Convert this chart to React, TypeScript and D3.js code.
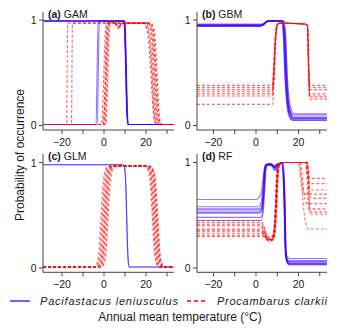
import React from 'react';
import * as d3 from 'd3';

type Curve = [number, number][];

const xTicks = [-20, -10, 0, 10, 20, 30];
const xTickLabels = [-20, 0, 20];
const yTicks = [0, 1];

// (a) GAM
const gamPacifastacus: Curve[] = [
  [[-29, 0.99], [9.6, 0.99], [10.2, 0.7], [10.8, 0.2], [11.4, 0.01], [33.3, 0.01]],
  [[-29, 0.99], [9.9, 0.99], [10.5, 0.6], [11.1, 0.15], [11.7, 0.01], [33.3, 0.01]],
  [[-29, 0.99], [9.4, 0.99], [10.0, 0.75], [10.6, 0.25], [11.2, 0.01], [33.3, 0.01]],
  [[-29, 0.99], [10.1, 0.99], [10.7, 0.5], [11.3, 0.05], [11.8, 0.01], [33.3, 0.01]],
  [[-29, 0.01], [-3.8, 0.01], [-3.3, 0.5], [-2.8, 0.99], [9.7, 0.99], [10.3, 0.65], [10.9, 0.15], [11.5, 0.01], [33.3, 0.01]],
  [[-29, 0.01], [-3.2, 0.01], [-2.7, 0.5], [-2.2, 0.99], [9.8, 0.99], [10.4, 0.6], [11.0, 0.1], [11.6, 0.01], [33.3, 0.01]],
  [[-29, 0.99], [9.8, 0.99], [10.4, 0.6], [11.0, 0.12], [11.6, 0.01], [33.3, 0.01]],
];
const gamProcambarus: Curve[] = [
  [[-29, 0.01], [-17.8, 0.01], [-17.3, 0.97], [19.0, 0.97], [20.5, 0.9], [22.0, 0.6], [23.0, 0.25], [24.0, 0.05], [25.0, 0.01], [33.3, 0.01]],
  [[-29, 0.01], [-15.5, 0.01], [-15.0, 0.97], [19.5, 0.97], [21.0, 0.9], [22.5, 0.6], [23.5, 0.2], [24.5, 0.03], [25.5, 0.01], [33.3, 0.01]],
  [[-29, 0.01], [-0.5, 0.01], [0.3, 0.3], [1.0, 0.8], [1.8, 0.97], [3.0, 0.99], [5.0, 0.98], [6.7, 0.92], [8.0, 0.96], [9.5, 0.97], [21.0, 0.97], [22.5, 0.92], [23.8, 0.6], [24.8, 0.2], [25.8, 0.03], [26.8, 0.01], [33.3, 0.01]],
  [[-29, 0.01], [0.0, 0.01], [0.8, 0.3], [1.5, 0.8], [2.3, 0.97], [3.5, 0.99], [5.2, 0.97], [6.8, 0.93], [8.2, 0.96], [9.7, 0.97], [21.5, 0.97], [23.0, 0.92], [24.2, 0.6], [25.2, 0.2], [26.2, 0.03], [27.2, 0.01], [33.3, 0.01]],
  [[-29, 0.01], [0.5, 0.01], [1.2, 0.3], [1.9, 0.8], [2.7, 0.97], [4.0, 0.98], [5.5, 0.97], [7.0, 0.93], [8.4, 0.96], [10.0, 0.97], [22.0, 0.97], [23.4, 0.92], [24.6, 0.6], [25.6, 0.2], [26.5, 0.03], [27.5, 0.01], [33.3, 0.01]],
  [[-29, 0.01], [-0.3, 0.01], [0.5, 0.3], [1.2, 0.8], [2.0, 0.97], [3.2, 0.99], [5.0, 0.98], [6.6, 0.94], [8.0, 0.96], [9.6, 0.97], [20.8, 0.97], [22.2, 0.92], [23.4, 0.6], [24.4, 0.2], [25.4, 0.03], [26.4, 0.01], [33.3, 0.01]],
  [[-29, 0.01], [1.0, 0.01], [1.6, 0.3], [2.3, 0.8], [3.1, 0.97], [4.2, 0.98], [5.8, 0.97], [7.2, 0.93], [8.6, 0.96], [10.2, 0.97], [22.4, 0.97], [23.8, 0.92], [25.0, 0.6], [26.0, 0.2], [26.9, 0.03], [27.8, 0.01], [33.3, 0.01]],
  [[-29, 0.01], [-1.2, 0.01], [-0.4, 0.3], [0.4, 0.8], [1.2, 0.97], [3.0, 0.97], [20.0, 0.97], [21.5, 0.9], [22.8, 0.6], [23.8, 0.2], [24.8, 0.03], [25.8, 0.01], [33.3, 0.01]],
];

// (b) GBM
const gbmPacifastacus: Curve[] = [
  [[-27.8, 0.95], [2, 0.95], [3.5, 0.96], [4.5, 0.975], [5.5, 0.99], [12.0, 0.99], [12.8, 0.85], [13.6, 0.45], [14.5, 0.2], [15.5, 0.09], [17, 0.05], [33.4, 0.05]],
  [[-27.8, 0.94], [2, 0.94], [3.5, 0.95], [4.5, 0.975], [5.5, 0.99], [12.4, 0.99], [13.2, 0.85], [14.0, 0.45], [14.9, 0.2], [15.9, 0.09], [17.4, 0.05], [33.4, 0.05]],
  [[-27.8, 0.96], [2, 0.96], [3.5, 0.965], [4.5, 0.98], [5.5, 0.99], [12.6, 0.99], [13.4, 0.85], [14.2, 0.45], [15.1, 0.2], [16.1, 0.1], [17.6, 0.06], [33.4, 0.06]],
  [[-27.8, 0.95], [2, 0.95], [3.5, 0.96], [4.5, 0.975], [5.5, 0.99], [12.2, 0.99], [13.0, 0.85], [13.8, 0.45], [14.7, 0.2], [15.7, 0.11], [17.2, 0.07], [33.4, 0.07]],
  [[-27.8, 0.94], [2, 0.94], [3.5, 0.95], [4.5, 0.975], [5.5, 0.99], [12.8, 0.99], [13.6, 0.85], [14.4, 0.45], [15.3, 0.2], [16.3, 0.11], [17.8, 0.07], [33.4, 0.07]],
  [[-27.8, 0.95], [2, 0.95], [3.5, 0.96], [4.5, 0.975], [5.5, 0.99], [13.0, 0.99], [13.8, 0.85], [14.6, 0.45], [15.5, 0.2], [16.5, 0.12], [18.0, 0.08], [33.4, 0.08]],
  [[-27.8, 0.96], [2, 0.96], [3.5, 0.965], [4.5, 0.98], [5.5, 0.99], [12.5, 0.99], [13.3, 0.85], [14.1, 0.45], [15.0, 0.22], [16.0, 0.14], [17.5, 0.10], [33.4, 0.10]],
  [[-27.8, 0.95], [2, 0.95], [3.5, 0.96], [4.5, 0.975], [5.5, 0.99], [13.2, 0.99], [14.0, 0.85], [14.8, 0.45], [15.7, 0.23], [16.7, 0.15], [18.2, 0.11], [33.4, 0.11]],
];
const gbmProcambarus: Curve[] = [
  [[-27.8, 0.38], [7.6, 0.38], [8.1, 0.48], [9.0, 0.8], [9.8, 0.95], [11, 0.97], [23.5, 0.96], [24.2, 0.94], [24.7, 0.6], [25.2, 0.38], [33.4, 0.38]],
  [[-27.8, 0.36], [7.8, 0.36], [8.3, 0.46], [9.2, 0.8], [10.0, 0.95], [11, 0.97], [23.6, 0.96], [24.3, 0.94], [24.8, 0.6], [25.3, 0.36], [33.4, 0.36]],
  [[-27.8, 0.34], [7.5, 0.34], [8.0, 0.44], [8.9, 0.8], [9.7, 0.95], [11, 0.97], [23.4, 0.96], [24.1, 0.94], [24.6, 0.6], [25.1, 0.34], [33.4, 0.34]],
  [[-27.8, 0.32], [7.7, 0.32], [8.2, 0.42], [9.1, 0.8], [9.9, 0.95], [11, 0.97], [23.5, 0.96], [24.2, 0.94], [24.7, 0.55], [25.2, 0.30], [33.4, 0.30]],
  [[-27.8, 0.30], [7.9, 0.30], [8.4, 0.4], [9.3, 0.8], [10.1, 0.95], [11, 0.97], [23.7, 0.96], [24.4, 0.94], [24.9, 0.55], [25.4, 0.28], [33.4, 0.28]],
  [[-27.8, 0.28], [7.6, 0.28], [8.1, 0.38], [9.0, 0.8], [9.8, 0.95], [11, 0.97], [23.5, 0.96], [24.2, 0.94], [24.7, 0.55], [25.2, 0.27], [33.4, 0.27]],
  [[-27.8, 0.20], [7.8, 0.20], [8.3, 0.32], [9.2, 0.8], [10.0, 0.95], [11, 0.97], [23.6, 0.96], [24.3, 0.94], [24.8, 0.5], [25.3, 0.25], [33.4, 0.25]],
];

// (c) GLM
const glmPacifastacus: Curve[] = [
  [[-29, 0.98], [8.5, 0.98], [9.5, 0.97], [10.0, 0.92], [10.5, 0.7], [11.0, 0.3], [11.5, 0.07], [12.0, 0.01], [33.3, 0.01]],
  [[-29, 0.98], [8.6, 0.98], [9.6, 0.97], [10.1, 0.91], [10.6, 0.68], [11.1, 0.28], [11.6, 0.06], [12.1, 0.01], [33.3, 0.01]],
];
const glmProcambarus: Curve[] = [
  [[-29, 0.01], [-4.4, 0.01], [-3.4, 0.04], [-2.4, 0.16], [-1.4, 0.49], [-0.4, 0.81], [0.6, 0.93], [1.6, 0.96], [3.6, 0.97], [18.0, 0.97], [20.0, 0.96], [21.0, 0.93], [22.0, 0.81], [23.0, 0.49], [24.0, 0.16], [25.0, 0.04], [26.0, 0.01], [33.3, 0.01]],
  [[-29, 0.01], [-3.8, 0.01], [-2.8, 0.04], [-1.8, 0.16], [-0.8, 0.49], [0.2, 0.81], [1.2, 0.93], [2.2, 0.96], [4.2, 0.97], [18.4, 0.97], [20.4, 0.96], [21.4, 0.93], [22.4, 0.81], [23.4, 0.49], [24.4, 0.16], [25.4, 0.04], [26.4, 0.01], [33.3, 0.01]],
  [[-29, 0.01], [-3.3, 0.01], [-2.3, 0.04], [-1.3, 0.16], [-0.3, 0.49], [0.7, 0.81], [1.7, 0.93], [2.7, 0.96], [4.7, 0.97], [18.8, 0.97], [20.8, 0.96], [21.8, 0.93], [22.8, 0.81], [23.8, 0.49], [24.8, 0.16], [25.8, 0.04], [26.8, 0.01], [33.3, 0.01]],
  [[-29, 0.01], [-2.8, 0.01], [-1.8, 0.04], [-0.8, 0.16], [0.2, 0.49], [1.2, 0.81], [2.2, 0.93], [3.2, 0.96], [5.2, 0.97], [19.2, 0.97], [21.2, 0.96], [22.2, 0.93], [23.2, 0.81], [24.2, 0.49], [25.2, 0.16], [26.2, 0.04], [27.2, 0.01], [33.3, 0.01]],
  [[-29, 0.01], [-2.4, 0.01], [-1.4, 0.04], [-0.4, 0.16], [0.6, 0.49], [1.6, 0.81], [2.6, 0.93], [3.6, 0.96], [5.6, 0.97], [19.6, 0.97], [21.6, 0.96], [22.6, 0.93], [23.6, 0.81], [24.6, 0.49], [25.6, 0.16], [26.6, 0.04], [27.6, 0.01], [33.3, 0.01]],
  [[-29, 0.01], [-2.0, 0.01], [-1.0, 0.04], [0.0, 0.16], [1.0, 0.49], [2.0, 0.81], [3.0, 0.93], [4.0, 0.96], [6.0, 0.97], [20.0, 0.97], [22.0, 0.96], [23.0, 0.93], [24.0, 0.81], [25.0, 0.49], [26.0, 0.16], [27.0, 0.04], [28.0, 0.01], [33.3, 0.01]],
  [[-29, 0.01], [-1.5, 0.01], [-0.5, 0.04], [0.5, 0.16], [1.5, 0.49], [2.5, 0.81], [3.5, 0.93], [4.5, 0.96], [6.5, 0.97], [20.3, 0.97], [22.3, 0.96], [23.3, 0.93], [24.3, 0.81], [25.3, 0.49], [26.3, 0.16], [27.3, 0.04], [28.3, 0.01], [33.3, 0.01]],
  [[-29, 0.01], [-1.0, 0.01], [0.0, 0.04], [1.0, 0.16], [2.0, 0.49], [3.0, 0.81], [4.0, 0.93], [5.0, 0.96], [7.0, 0.97], [20.6, 0.97], [22.6, 0.96], [23.6, 0.93], [24.6, 0.81], [25.6, 0.49], [26.6, 0.16], [27.6, 0.04], [28.6, 0.01], [33.3, 0.01]],
];

// (d) RF
const rfPacifastacus: Curve[] = [
  [[-27.8, 0.65], [0, 0.65], [1.5, 0.67], [2.5, 0.72], [3.3, 0.85], [4.2, 0.97], [6, 0.99], [8, 0.97], [10, 0.98], [12.2, 0.99], [13.0, 0.75], [13.8, 0.2], [14.6, 0.11], [16, 0.09], [33.4, 0.09]],
  [[-27.8, 0.58], [1, 0.58], [2, 0.6], [3, 0.7], [3.8, 0.9], [4.6, 0.98], [7, 0.98], [8.5, 0.93], [10, 0.98], [12.5, 0.99], [13.3, 0.7], [14.0, 0.15], [15, 0.08], [16, 0.07], [33.4, 0.07]],
  [[-27.8, 0.56], [1.5, 0.56], [2.5, 0.58], [3.3, 0.7], [4.0, 0.92], [4.8, 0.98], [7, 0.99], [9, 0.95], [10.5, 0.98], [12.4, 0.99], [13.2, 0.7], [13.9, 0.15], [14.8, 0.07], [16, 0.06], [33.4, 0.06]],
  [[-27.8, 0.55], [1.8, 0.55], [2.8, 0.57], [3.5, 0.7], [4.2, 0.92], [5.0, 0.98], [7.5, 0.98], [9.2, 0.92], [10.5, 0.98], [12.6, 0.99], [13.4, 0.7], [14.1, 0.12], [15, 0.06], [16, 0.05], [33.4, 0.05]],
  [[-27.8, 0.53], [2, 0.53], [3, 0.56], [3.7, 0.72], [4.4, 0.93], [5.2, 0.98], [7, 0.97], [8.8, 0.96], [10.2, 0.99], [12.3, 0.99], [13.1, 0.7], [13.8, 0.12], [14.7, 0.05], [16, 0.04], [33.4, 0.04]],
  [[-27.8, 0.52], [1.5, 0.52], [2.6, 0.55], [3.4, 0.7], [4.1, 0.93], [4.9, 0.98], [7.2, 0.98], [9.5, 0.94], [10.8, 0.98], [12.7, 0.99], [13.5, 0.7], [14.2, 0.12], [15, 0.045], [16, 0.035], [33.4, 0.035]],
  [[-27.8, 0.48], [2.2, 0.48], [3.0, 0.52], [3.8, 0.7], [4.5, 0.93], [5.3, 0.98], [7, 0.99], [8.6, 0.95], [10, 0.98], [12.5, 0.99], [13.3, 0.7], [14.0, 0.12], [14.9, 0.04], [16, 0.03], [33.4, 0.03]],
  [[-27.8, 0.45], [2.4, 0.45], [3.2, 0.5], [4.0, 0.7], [4.7, 0.93], [5.5, 0.98], [7.4, 0.98], [9, 0.96], [10.4, 0.99], [12.8, 0.99], [13.6, 0.7], [14.3, 0.12], [15.2, 0.05], [16, 0.04], [33.4, 0.04]],
];
const rfProcambarus: Curve[] = [
  [[-27.8, 0.45], [1.5, 0.45], [3, 0.43], [4, 0.38], [5, 0.32], [6.5, 0.29], [8, 0.31], [9, 0.5], [9.8, 0.85], [10.5, 0.98], [12, 1.0], [23.8, 1.0], [24.4, 0.93], [25.0, 0.88], [25.6, 0.85], [33.4, 0.85]],
  [[-27.8, 0.43], [1.8, 0.43], [3.2, 0.41], [4.2, 0.36], [5.2, 0.3], [6.8, 0.28], [8.2, 0.3], [9.2, 0.5], [10.0, 0.85], [10.7, 0.98], [12, 1.0], [23.4, 1.0], [24.0, 0.9], [24.6, 0.83], [25.2, 0.80], [33.4, 0.80]],
  [[-27.8, 0.40], [1.6, 0.40], [3.0, 0.38], [4.0, 0.34], [5.0, 0.3], [6.6, 0.27], [8.0, 0.29], [9.0, 0.5], [9.8, 0.85], [10.5, 0.98], [12, 1.0], [23.9, 1.0], [24.5, 0.88], [25.0, 0.77], [25.6, 0.74], [33.4, 0.74]],
  [[-27.8, 0.37], [2.0, 0.37], [3.4, 0.35], [4.4, 0.31], [5.4, 0.27], [7.0, 0.26], [8.4, 0.28], [9.4, 0.5], [10.2, 0.85], [10.9, 0.98], [12, 1.0], [19.8, 1.0], [20.8, 0.9], [21.8, 0.76], [22.8, 0.70], [33.4, 0.70]],
  [[-27.8, 0.35], [1.8, 0.35], [3.2, 0.33], [4.2, 0.3], [5.2, 0.27], [6.8, 0.25], [8.2, 0.28], [9.2, 0.5], [10.0, 0.85], [10.7, 0.98], [12, 1.0], [24.3, 1.0], [24.9, 0.85], [25.4, 0.7], [26.0, 0.66], [33.4, 0.66]],
  [[-27.8, 0.31], [2.2, 0.31], [3.6, 0.3], [4.6, 0.28], [5.6, 0.26], [7.2, 0.26], [8.6, 0.29], [9.6, 0.5], [10.4, 0.85], [11.1, 0.98], [12.5, 1.0], [20.8, 1.0], [21.8, 0.88], [22.8, 0.68], [23.8, 0.61], [33.4, 0.61]],
  [[-27.8, 0.30], [1.9, 0.30], [3.3, 0.3], [4.3, 0.29], [5.3, 0.27], [6.9, 0.26], [8.3, 0.29], [9.3, 0.5], [10.1, 0.85], [10.8, 0.98], [12, 1.0], [23.9, 1.0], [24.5, 0.85], [25.0, 0.62], [25.6, 0.56], [33.4, 0.56]],
  [[-27.8, 0.33], [2.1, 0.33], [3.5, 0.32], [4.5, 0.29], [5.5, 0.27], [7.1, 0.27], [8.5, 0.3], [9.5, 0.5], [10.3, 0.85], [11.0, 0.98], [12.4, 1.0], [23.4, 1.0], [24.0, 0.85], [24.6, 0.6], [25.2, 0.53], [33.4, 0.53]],
  [[-27.8, 0.36], [1.7, 0.36], [3.1, 0.34], [4.1, 0.31], [5.1, 0.28], [6.7, 0.27], [8.1, 0.29], [9.1, 0.5], [9.9, 0.85], [10.6, 0.98], [12, 1.0], [24.1, 1.0], [24.7, 0.85], [25.2, 0.58], [25.8, 0.51], [33.4, 0.51]],
  [[-27.8, 0.41], [1.4, 0.41], [2.8, 0.4], [3.8, 0.35], [4.8, 0.3], [6.4, 0.27], [7.8, 0.3], [8.8, 0.5], [9.6, 0.85], [10.3, 0.98], [12, 1.0], [20.3, 1.0], [21.3, 0.85], [22.5, 0.55], [23.8, 0.40], [24.8, 0.37], [33.4, 0.37]],
];

const BLUE = '#3a00ff';
const RED = '#ff0000';

interface PanelSpec {
  tag: string;
  name: string;
  blue: Curve[];
  red: Curve[];
  left: number;
  right: number;
  xRange: [number, number];
  y0: number;
  y1: number;
  axisY: number;
  top: number;
}

const panels: PanelSpec[] = [
  { tag: '(a)', name: 'GAM', blue: gamPacifastacus, red: gamProcambarus, left: 43, right: 174, xRange: [62, 146], y0: 125.5, y1: 20, axisY: 130, top: 12 },
  { tag: '(b)', name: 'GBM', blue: gbmPacifastacus, red: gbmProcambarus, left: 197, right: 327, xRange: [213.5, 298.5], y0: 125.5, y1: 20, axisY: 130, top: 12 },
  { tag: '(c)', name: 'GLM', blue: glmPacifastacus, red: glmProcambarus, left: 43, right: 174, xRange: [62, 146], y0: 268, y1: 162.7, axisY: 272.3, top: 154 },
  { tag: '(d)', name: 'RF', blue: rfPacifastacus, red: rfProcambarus, left: 197, right: 327, xRange: [213.5, 298.5], y0: 268, y1: 162.5, axisY: 272.3, top: 154 },
];

const FONT = '"Liberation Sans", Arial, Helvetica, sans-serif';
const AXIS = '#444';
const TXT = '#1a1a1a';

function Panel({ p }: { p: PanelSpec }) {
  const x = d3.scaleLinear().domain([-20, 20]).range(p.xRange);
  const y = d3.scaleLinear().domain([0, 1]).range([p.y0, p.y1]);
  const line = d3
    .line<[number, number]>()
    .x((d) => x(d[0]))
    .y((d) => y(d[1]))
    .curve(d3.curveMonotoneX);
  const ticks = xTicks.filter((t) => x(t) >= p.left - 0.5 && x(t) <= p.right + 0.5);
  return (
    <g>
      {p.blue.map((c, i) => (
        <path key={'b' + i} d={line(c) || ''} fill="none" stroke={BLUE} strokeWidth={1.1} strokeOpacity={0.55} />
      ))}
      {p.red.map((c, i) => (
        <path key={'r' + i} d={line(c) || ''} fill="none" stroke={RED} strokeWidth={1.1} strokeOpacity={0.6} strokeDasharray="3,2" />
      ))}
      <line x1={p.left} x2={p.left} y1={p.top} y2={p.axisY} stroke={AXIS} strokeWidth={1} />
      <line x1={p.left} x2={p.right} y1={p.axisY} y2={p.axisY} stroke={AXIS} strokeWidth={1} />
      {ticks.map((t) => (
        <line key={'xt' + t} x1={x(t)} x2={x(t)} y1={p.axisY} y2={p.axisY + 4} stroke={AXIS} />
      ))}
      {xTickLabels.map((t) => (
        <text key={'xl' + t} x={x(t)} y={p.axisY + 16} textAnchor="middle" fontSize={10.5} fill={TXT} fontFamily={FONT}>
          {t < 0 ? '\u2212' + Math.abs(t) : String(t)}
        </text>
      ))}
      {yTicks.map((t) => (
        <g key={'yt' + t}>
          <line x1={p.left - 4} x2={p.left} y1={y(t)} y2={y(t)} stroke={AXIS} />
          <text x={p.left - 6.5} y={y(t) + 3.8} textAnchor="end" fontSize={10.5} fill={TXT} fontFamily={FONT}>
            {t}
          </text>
        </g>
      ))}
      <text x={p.left + 5} y={p.top + 6} fontSize={10.5} fill={TXT} fontFamily={FONT}>
        <tspan fontWeight="bold">{p.tag}</tspan>
        <tspan> {p.name}</tspan>
      </text>
    </g>
  );
}

export default function App() {
  return (
    <svg
      width={348}
      height={333}
      viewBox="0 0 348 333"
      style={{ position: 'absolute', left: 0, top: 0, background: '#fff' }}
    >
      <rect x={0} y={0} width={348} height={333} fill="#fff" />
      {panels.map((p) => (
        <Panel key={p.tag} p={p} />
      ))}
      <text transform="translate(24,155) rotate(-90)" textAnchor="middle" fontSize={12} fill={TXT} fontFamily={FONT}>
        Probability of occurrence
      </text>
      <line x1={10} x2={30} y1={301} y2={301} stroke={BLUE} strokeWidth={1.3} />
      <text x={40} y={305} fontSize={11} fontStyle="italic" fill={TXT} fontFamily={FONT} textLength={138} lengthAdjust="spacing">
        Pacifastacus leniusculus
      </text>
      <line x1={187} x2={207} y1={301} y2={301} stroke={RED} strokeWidth={1.3} strokeDasharray="4,3" />
      <text x={217} y={305} fontSize={11} fontStyle="italic" fill={TXT} fontFamily={FONT} textLength={110} lengthAdjust="spacing">
        Procambarus clarkii
      </text>
      <text x={180} y={321} textAnchor="middle" fontSize={12} fill={TXT} fontFamily={FONT}>
        Annual mean temperature (°C)
      </text>
    </svg>
  );
}
